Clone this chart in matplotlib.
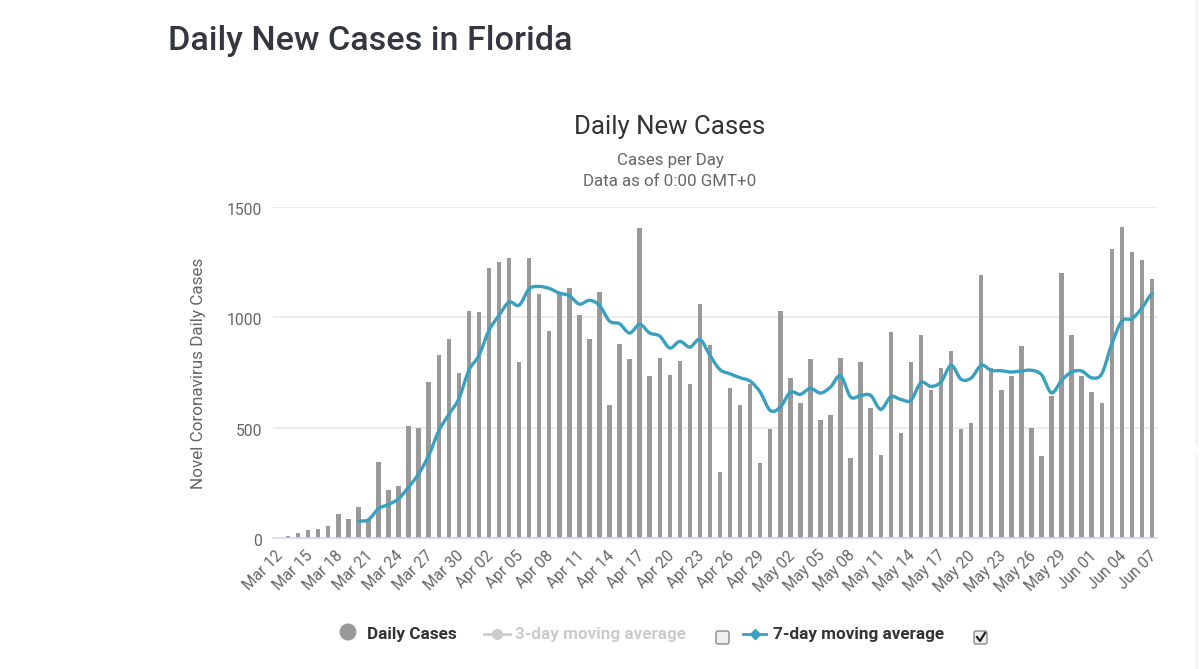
import numpy as np
import pandas as pd
import matplotlib
matplotlib.use('Agg')
import matplotlib.pyplot as plt
from matplotlib.path import Path
from matplotlib.patches import PathPatch, FancyBboxPatch, Circle
from matplotlib.lines import Line2D
from matplotlib.transforms import ScaledTranslation

plt.rcParams['font.family'] = ['Roboto', 'DejaVu Sans']

# values, one per day from Mar 12
daily_cases = [0, 9, 23, 35, 42, 54, 107, 88, 139, 83, 346, 216, 236, 506, 500, 707, 830, 900, 746, 1030,
               1024, 1223, 1249, 1268, 797, 1268, 1107, 939, 1107, 1132, 1010, 900, 1113, 604, 880, 809, 1404, 732, 817, 738,
               803, 700, 1061, 874, 300, 681, 604, 699, 338, 494, 1030, 726, 610, 809, 533, 557, 817, 364, 796, 590,
               378, 933, 474, 797, 921, 669, 772, 849, 494, 519, 1191, 772, 669, 734, 868, 500, 371, 642, 1203, 921,
               734, 661, 610, 1308, 1410, 1294, 1262, 1172]
# 7-day average starts on Mar 20
avg_start = 8
avg_7day = [77, 83, 133, 152, 178, 231, 291, 374, 485, 560, 631, 760,
            827, 941, 1009, 1069, 1055, 1129, 1140, 1131, 1110, 1098, 1060, 1077, 1054, 983, 971, 929, 968, 929, 915, 861,
            891, 865, 900, 827, 763, 744, 726, 711, 661, 578, 593, 660, 651, 678, 657, 684, 735, 639, 646, 646,
            583, 640, 628, 624, 704, 687, 707, 782, 719, 725, 782, 760, 758, 752, 757, 760, 740, 658, 714, 752,
            757, 726, 744, 880, 983, 994, 1042, 1107]
yticks = [0, 500, 1000, 1500]

dates = pd.date_range('2020-03-12', periods=len(daily_cases))
labels = [d.strftime('%b %d') for d in dates]

BAR = '#999999'
TEAL = '#3aa0bf'
GREY = '#666666'
DARK = '#343741'

def spline_path(x, y):
    # smooth curve through the points, same idea as a highcharts spline
    x = np.asarray(x, float)
    y = np.asarray(y, float)
    verts = [(x[0], y[0])]
    codes = [Path.MOVETO]
    for i in range(len(x) - 1):
        y0 = y[max(i - 1, 0)]
        y3 = y[min(i + 2, len(y) - 1)]
        verts += [(x[i] + 1 / 3, y[i] + (y[i + 1] - y0) / 6),
                  (x[i + 1] - 1 / 3, y[i + 1] - (y3 - y[i]) / 6),
                  (x[i + 1], y[i + 1])]
        codes += [Path.CURVE4] * 3
    return Path(verts, codes)

fig = plt.figure(figsize=(12, 6.69), dpi=100, facecolor='white')

# chart area in pixels: x 273-1157, y 207-538
ax = fig.add_axes([273 / 1200, 1 - 538 / 669, 884 / 1200, 331 / 669])
x = np.arange(len(daily_cases))
ax.bar(x, daily_cases, width=0.44, color=BAR, zorder=2)
x_avg = x[avg_start:avg_start + len(avg_7day)]
ax.add_patch(PathPatch(spline_path(x_avg, avg_7day), fill=False, edgecolor=TEAL, lw=2.4, zorder=3,
                       capstyle='round', joinstyle='round'))
ax.set_xlim(-0.5, len(daily_cases) - 0.5)
ax.set_ylim(0, 1500)
ax.set_yticks(yticks)
ax.set_yticklabels([str(v) for v in yticks], fontsize=11.3, color=GREY)
ax.set_xticks(x[::3])
ax.set_xticklabels(labels[::3], rotation=45, fontsize=11.2, color=GREY, rotation_mode='anchor', ha='right', va='center')
ax.tick_params(axis='both', length=0)
ax.tick_params(axis='y', pad=8)
ax.tick_params(axis='x', pad=11)
# labels sit a little below their grid line
for t in ax.get_yticklabels():
    t.set_transform(t.get_transform() + ScaledTranslation(0, -2 / 100, fig.dpi_scale_trans))
for t in ax.get_xticklabels():
    t.set_transform(t.get_transform() + ScaledTranslation(2 / 100, 0, fig.dpi_scale_trans))
ax.grid(axis='y', color='#e6e6e6', lw=1.1, zorder=0)
ax.set_axisbelow(True)
for s in ['top', 'right', 'left']:
    ax.spines[s].set_visible(False)
ax.spines['bottom'].set_color('#ccd6eb')
ax.spines['bottom'].set_linewidth(1.1)
ax.set_facecolor('none')

# overlay in pixel coordinates for page text and legend
ov = fig.add_axes([0, 0, 1, 1], zorder=5)
ov.set_xlim(0, 1200)
ov.set_ylim(669, 0)
ov.axis('off')

ov.text(168, 41, 'Daily New Cases in Florida', fontsize=24.6, fontweight='medium', color=DARK, va='center', ha='left')
ov.text(670, 127, 'Daily New Cases', fontsize=18.6, color='#333333', va='center', ha='center')
ov.text(670, 160, 'Cases per Day', fontsize=12.2, color=GREY, va='center', ha='center')
ov.text(670, 181, 'Data as of 0:00 GMT+0', fontsize=12.2, color=GREY, va='center', ha='center')
ov.text(198, 373, 'Novel Coronavirus Daily Cases', fontsize=12.3, color=GREY, rotation=90, va='center', ha='center')

# legend
ov.add_patch(Circle((348, 632), 8.5, color=BAR, lw=0))
ov.text(367, 634, 'Daily Cases', fontsize=12.3, fontweight='bold', color='#333333', va='center')
ov.add_line(Line2D([484, 510], [634, 634], color='#cccccc', lw=2))
ov.add_line(Line2D([497], [634], marker='o', ms=7, color='#cccccc'))
ov.text(515, 634, '3-day moving average', fontsize=12.3, fontweight='bold', color='#cccccc', va='center')
ov.add_line(Line2D([743, 766], [634, 634], color=TEAL, lw=2))
ov.add_line(Line2D([754.5], [634], marker='D', ms=5, color=TEAL))
ov.text(773, 634, '7-day moving average', fontsize=12.3, fontweight='bold', color='#333333', va='center')
for bx in [716, 974]:
    ov.add_patch(FancyBboxPatch((bx, 631), 13, 13, boxstyle='round,pad=0,rounding_size=2',
                                facecolor='#efefef', edgecolor='#8a8a8a', lw=1))
ov.add_line(Line2D([977, 980, 985], [637, 641, 633], color='#222222', lw=1.6))

# faint panel edge at the right of the screenshot
ov.add_line(Line2D([1197, 1197], [0, 445], color='#eeeeee', lw=1.2))
ov.add_line(Line2D([1197, 1197], [455, 669], color='#eeeeee', lw=1.2))

fig.savefig('out.png', dpi=100, facecolor='white')
